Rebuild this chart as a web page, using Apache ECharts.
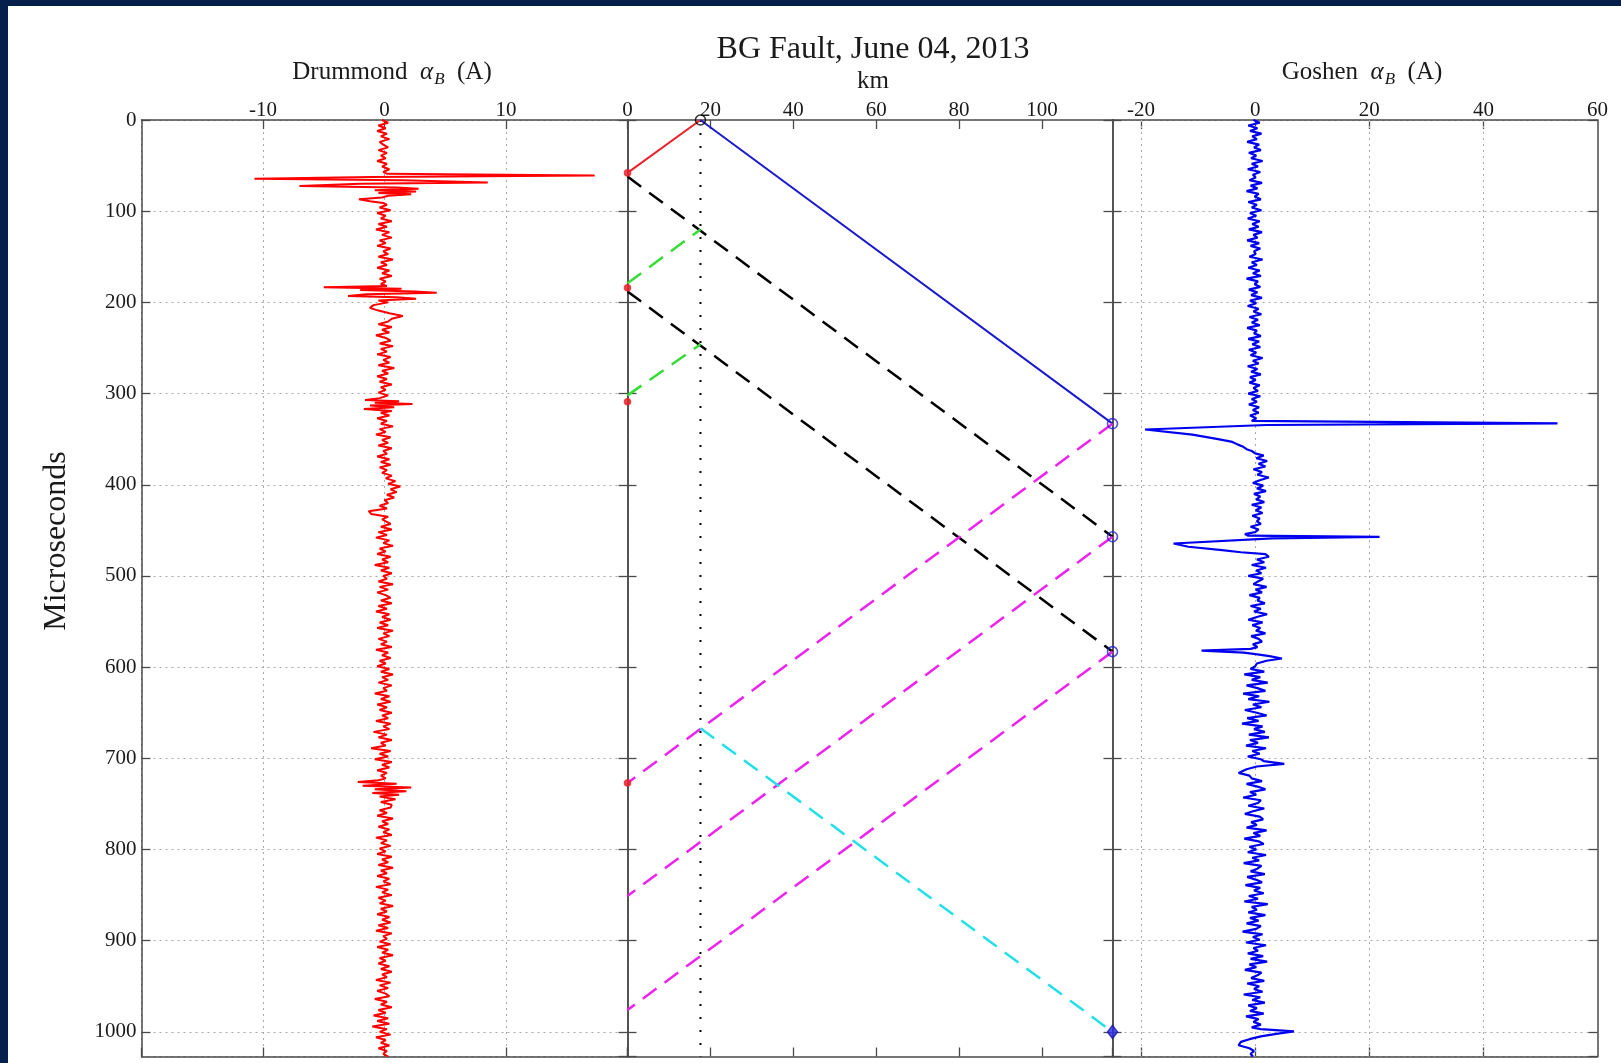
<!DOCTYPE html>
<html>
<head>
<meta charset="utf-8">
<script src="https://cdn.jsdelivr.net/npm/echarts@6/dist/echarts.min.js"></script>
<style>
html,body{margin:0;padding:0;background:#ffffff;}
#chart{width:1621px;height:1063px;}
</style>
</head>
<body>
<div id="chart"></div>
<script>
// ---------------- DATA ----------------
const titleText = 'BG Fault, June 04, 2013';
const yTicks = [0,100,200,300,400,500,600,700,800,900,1000];
const drumTicks = [-10, 0, 10];
const kmTicks = [0, 20, 40, 60, 80, 100];
const goshTicks = [-20, 0, 20, 40, 60];

// Drummond trace (A) : uniform noise chunks and bursts [t, A]
const drumNoise0 = [-0.2,0.3,-0.5,0.1,-0.6,0.2,-0.3,0.4,-0.4,-0.1,0.3,-0.5,0.2,-0.3,0.1,-0.6,0.2,-0.2,0.4,-0.1]; // t 0..57
const drumBurst1 = [[59,0.2],[61,17.3],[62.5,-1],[64.5,-10.7],[66,1.5],[68.5,8.5],[70,-2],[72.5,-7.0],[74,1],[75.5,2.8],[77,-0.8],[78.5,2.6],[80,-0.5],[81.5,2.2],[83,0.3],[85,-0.2],[87,-2.1],[89,-1.2],[91,-0.1]];
const drumNoise1 = [0.2,-0.4,0.5,-0.6,0.1,-0.3,0.6,-0.5,0.2,-0.7,0.4,-0.2,0.6,-0.4,0.1,-0.6,0.5,-0.1,0.3,-0.5,0.7,-0.3,0.2,-0.6,0.4,-0.2,0.6,-0.4,0.1,-0.3]; // t 93..180
const drumBurst2 = [[182,0.2],[183.5,-5.0],[185,1.4],[186.5,-2],[188,2.5],[189.5,4.3],[191,-1.5],[193,-3.0],[194.5,1.0],[196,2.6],[198,-0.5],[200,0.3],[203,-0.9],[206,-1.2],[209,-0.5],[212,0.4],[215,1.5],[218,0.6]];
const drumNoise2 = [0.3,-0.5,0.6,-0.2,0.4,-0.7,0.1,0.5,-0.4,0.7,-0.3,0.2,-0.6,0.5,-0.1,0.4,-0.5,0.8,-0.2,0.3,-0.6,0.2,-0.4,0.6,-0.3,0.1,-0.5,0.3]; // t 221..302
const drumBurst3 = [[305,-0.4],[307,-1.6],[308.5,1.2],[310,-0.8],[311.5,2.3],[313,-1.2],[315,0.8],[317,-1.7],[319,0.6],[321,-0.3]];
const drumNoise3 = [0.4,-0.6,0.2,-0.3,0.7,-0.4,0.1,-0.7,0.5,-0.2,0.3,-0.5,0.6,-0.1,0.2,-0.6,0.4,-0.3,0.5,-0.4,0.2,-0.2,
  0.6,0.1,0.9,0.3,1.3,0.5,1.0,0.2,0.8,0.0,
  0.3,-0.4,0.2,-1.3,-1.1,0.3,-0.2]; // t 324..440
const drumNoise4 = [0.5,-0.3,0.6,-0.5,0.2,-0.7,0.4,-0.1,0.7,-0.4,
  0.1,-0.6,0.5,-0.2,0.3,-0.8,0.4,-0.3,0.6,-0.1,
  0.2,-0.5,0.7,-0.4,0.3,-0.6,0.1,0.5,-0.3,0.6,
  -0.5,0.2,-0.7,0.4,-0.2,0.5,-0.4,0.3,-0.6,0.7,
  -0.1,0.4,-0.5,0.2,-0.3,0.6,-0.7,0.3,-0.2,0.5,
  -0.4,0.1,-0.6,0.4,-0.3,0.7,-0.2,0.3,-0.5,0.6,
  -0.1,0.2,-0.8,0.4,-0.3,0.5,-0.6,0.2,-0.4,0.6,
  -0.2,0.3,-0.7,0.5,-0.1,0.4,-0.9,0.2,-0.5,0.6,
  -0.3,0.1,-1.1,0.5,-0.4,0.3,-0.8,0.6,-0.2,0.4,
  -0.6,0.2,-0.3,0.1]; // t 443..722
const drumBurst4 = [[724,-0.5],[726,-2.2],[728,1.0],[730,-1.8],[732,2.2],[734,-0.8],[736,1.8],[738,-1.0],[740,1.2],[742,-0.4],[745,0.9],[748,-0.3],[751,0.6]];
const drumNoise5 = [0.5,-0.4,0.2,-0.6,0.7,-0.2,0.3,-0.5,0.4,-0.1,
  0.6,-0.7,0.2,-0.3,0.5,-0.4,0.1,-0.6,0.6,-0.2,
  0.3,-0.5,0.7,-0.3,0.2,-0.6,0.4,-0.1,0.5,-0.7,
  0.3,-0.2,0.6,-0.5,0.1,-0.4,0.7,-0.3,0.2,-0.6,
  0.4,-0.2,0.5,-0.5,0.3,-0.7,0.6,-0.1,0.2,-0.4,
  0.5,-0.6,0.3,-0.2,0.7,-0.4,0.1,-0.5,0.4,-0.3,
  0.6,-0.2,0.2,-0.7,0.5,-0.4,0.3,-0.6,0.1,0.4,
  -0.8,0.2,-0.3,0.6,-0.5,0.1,-0.9,0.3,-0.6,0.4,
  -1.0,0.2,-0.4,0.5,-0.7,0.1,-0.3,0.4,-0.5,0.2,
  -0.1,0.3]; // t 754..1027

// Goshen trace (A)
const goshNoise0 = [-0.3,0.8,-1.2,0.4,-0.9,1.1,-0.5,0.3,-1.4,0.7,
  -0.2,1.0,-1.1,0.2,-0.7,1.3,-0.6,0.5,-1.3,0.9,
  -0.4,0.1,-1.0,1.2,-0.8,0.4,-1.5,0.6,-0.1,1.0,
  -1.2,0.3,-0.6,1.1,-0.9,0.2,-1.3,0.8,-0.5,0.6,
  -1.1,1.2,-0.3,0.4,-1.4,0.7,-0.8,0.9,-0.2,0.1,
  -1.0,1.3,-0.6,0.3,-1.2,0.8,-0.4,1.0,-1.5,0.5,
  -0.1,0.9,-1.1,0.4,-0.7,1.2,-0.9,0.2,-1.3,0.6,
  -0.3,1.1,-1.0,0.5,-0.6,0.8,-1.4,0.3,-0.2,1.0,
  -1.2,0.7,-0.5,0.9,-1.1,0.2,-0.8,1.3,-0.4,0.6,
  -1.3,0.4,-0.7,1.0,-0.9,0.1,-1.0,0.8,-0.3,0.5,
  -1.2,0.9,-0.6,0.3,-1.1,0.7,-0.4,0.6,-0.9,0.2,
  -0.6]; // t 0..330
const goshBurst1 = [[331.5,-0.5],[332.8,53],[334.5,2],[339.4,-19.3],[345,-11],[350,-6.5],[353,-4.0],[356,-3.0],[358,-2.2],[361,-1.5],[363,-0.6],[365.6,0.0]];
const goshNoise1 = [1.5,0.2,2.1,0.6,1.8,-0.3,1.2,0.4,2.4,0.8,
  -0.4,1.4,0.3,1.9,-0.2,0.9,0.2,1.6,-0.6,1.1,
  0.1,1.3,-0.5,0.8,0.3,1.0,-0.8,0.6,0.0]; // t 368..452
const goshBurst2 = [[454,-1.8],[455.8,-1.2],[457.2,21.8],[458.8,3],[464.4,-14.3],[468,-11.7],[471.7,-5.8],[474,-2.5],[476,1.8]];
const goshNoise2 = [2.4,0.3,1.6,-0.6,1.9,0.2,1.1,-1.2,1.4,0.5,
  -0.3,2.0,0.1,1.2,-1.0,0.8,0.4,1.7,-0.8,1.0,
  -0.2,2.1,0.3,-1.2,1.3,-0.5,0.9,0.2,1.8,-0.7,
  0.6,1.2,-0.4,0.4]; // t 479..578
const goshBurst3 = [[580,-0.8],[582,-9.4],[584,-2.0],[586,0.4],[588,2.5],[590.5,4.7],[593,2.0],[596,0.3],[599,0.0]];
const goshNoise3 = [-0.8,1.6,-1.9,0.9,-0.6,2.2,-1.5,0.4,1.8,-2.1,
  0.7,-1.2,2.5,-0.4,1.1,-1.8,0.3,2.0,-1.4,0.6,
  -2.3,1.3,-0.2,1.7,-1.1,2.4,-0.9,0.5,-1.6,1.9,
  -0.5,0.8,-1.3,1.0]; // t 602..701
const goshBurst4 = [[703,1.5],[706,5.1],[709,0.3],[712,-1.5],[716,-2.9],[719,-1.0]];
const goshNoise4 = [-0.6,1.2,-1.5,0.4,1.8,-0.9,0.2,-2.1,1.0,0.5,
  -1.2,1.6,-0.4,-1.8,0.8,1.4,-0.7,0.3,-1.5,2.0,
  -0.3,0.9,-1.9,0.6,1.5,-1.0,0.2,-1.3,1.9,-0.5,
  0.7,-2.0,1.1,0.4,-0.8,1.7,-1.4,0.1,1.2,-1.7,
  0.9,-0.2,1.5,-1.1,0.5,-1.9,2.2,-0.6,0.3,-1.2,
  1.8,-0.9,0.6,-1.5,1.0,0.2,-2.2,1.3,-0.4,0.8,
  -1.6,1.9,-0.3,0.5,-1.3,1.4,-0.8,2.1,-1.0,0.2,
  -1.8,1.1,0.4,-0.7,1.6,-1.4,0.7,-0.2,1.3,-2.0,
  0.9,-0.5,1.7,-1.2,0.3,-0.9,1.5,-1.6,0.6,-0.3,
  1.0,-0.6]; // t 722..995
const goshBurst5 = [[997,1.0],[999.5,6.8],[1002,4.0],[1005,1.0],[1008,-1.0],[1011,-2.5],[1014.6,-2.9],[1018,-1.0],[1021,-0.2],[1024,-0.8],[1027,-0.4]];

// Lattice (km, microseconds)
const faultKm = 17.6;
const spanKm = 117;
const redSolid = [[0,58],[17.6,0]];
const blueSolid = [[17.6,0],[117,333]];
const blackDashed = [[[0,62],[117,457]], [[0,188],[117,583]]];
const greenDashed = [[[0,179],[17.6,120]], [[0,302],[17.6,246]]];
const magentaDashed = [[[117,333],[0,727]], [[117,457],[0,851]], [[117,583],[0,976]]];
const cyanDashed = [[[17.6,667],[117,1000]]];
const faultLine = [[17.6,0],[17.6,1027]];
const blackCircles = [[17.6,0]];
const blueCircles = [[117,333],[117,457],[117,583]];
const blueDiamonds = [[117,1000]];
const redDots = [[0,58],[0,184],[0,309],[0,727]];

// ---------------- BUILD ----------------
function chunk(t0, dt, vals){ return vals.map((v,i)=>[t0+i*dt, v]); }
function toXY(pairs){ return pairs.map(p=>[p[1], p[0]]); } // [t,A] -> [A,t]

const drumData = toXY([].concat(
  chunk(0,3,drumNoise0), drumBurst1, chunk(93,3,drumNoise1), drumBurst2,
  chunk(221,3,drumNoise2), drumBurst3, chunk(324,3,drumNoise3), chunk(443,3,drumNoise4),
  drumBurst4, chunk(754,3,drumNoise5)));
const goshData = toXY([].concat(
  chunk(0,3,goshNoise0), goshBurst1, chunk(368,3,goshNoise1), goshBurst2,
  chunk(479,3,goshNoise2), goshBurst3, chunk(602,3,goshNoise3), goshBurst4,
  chunk(722,3,goshNoise4), goshBurst5));

const SERIF = 'Liberation Serif';
const AX = '#4a4a4a';
const GRIDC = '#a9a9a9';
const TXT = '#1a1a1a';
const YMAX = 1027;

const G = [
  {left:141.5, top:120, width:486, height:936.5},
  {left:627.5, top:120, width:485, height:936.5},
  {left:1112.5, top:120, width:485, height:936.5}
];

const lab = {fontFamily:SERIF, fontSize:21, color:TXT, formatter:(v)=>String(v)};
const tickStyle = {color:AX, width:1.3};
const axLine = {show:true, onZero:false, lineStyle:{color:AX, width:1.5}};
const gridLine = {show:true, lineStyle:{color:GRIDC, width:1, type:[2,4]}};

function xPair(g, min, max, interval, labelOpts, split, customTicks){
  const top = {gridIndex:g, type:'value', position:'top', min, max, interval,
    axisLine:axLine,
    axisTick:{show:true, inside:true, length:9, lineStyle:tickStyle},
    axisLabel:Object.assign({show:true, margin:-1}, lab, labelOpts),
    splitLine: split ? gridLine : {show:false}};
  const bottom = {gridIndex:g, type:'value', position:'bottom', min, max, interval,
    axisLine:axLine,
    axisTick:{show:true, inside:true, length:9, lineStyle:tickStyle},
    axisLabel:{show:false}, splitLine:{show:false}};
  if (customTicks){ top.axisTick.customValues = customTicks; bottom.axisTick.customValues = customTicks; }
  return [top, bottom];
}
function yPair(g, showLabels, split){
  const left = {gridIndex:g, type:'value', position:'left', min:0, max:YMAX, interval:100, inverse:true,
    axisLine:axLine,
    axisTick:{show:true, inside:true, length:9, lineStyle:tickStyle},
    axisLabel:Object.assign({show:showLabels, margin:5, showMaxLabel:false}, lab),
    splitLine: split ? gridLine : {show:false}};
  const right = {gridIndex:g, type:'value', position:'right', min:0, max:YMAX, interval:100, inverse:true,
    axisLine:axLine,
    axisTick:{show:true, inside:true, length:9, lineStyle:tickStyle},
    axisLabel:{show:false}, splitLine:{show:false}};
  return [left, right];
}

const xAxes = [].concat(
  xPair(0, -20, 20, 10, {showMinLabel:false, showMaxLabel:false}, true),
  xPair(1, 0, spanKm, 20, {showMaxLabel:false}, false),
  xPair(2, -25, 60, 5, {customValues:goshTicks}, false, [-20,0,20,40])
);
const yAxes = [].concat(yPair(0, true, true), yPair(1, false, false), yPair(2, false, true));

const series = [];
// Drummond
series.push({type:'line', xAxisIndex:0, yAxisIndex:0, data:drumData, showSymbol:false, symbol:'none',
  lineStyle:{color:'#ff0000', width:2}, z:5});
// Goshen vertical grid lines
series.push({type:'line', xAxisIndex:4, yAxisIndex:4, data:[], symbol:'none', z:1,
  markLine:{silent:true, symbol:['none','none'], label:{show:false},
    lineStyle:{color:GRIDC, width:1, type:[2,4]},
    data:[-20,0,20,40].map(v=>({xAxis:v}))}});
// Goshen
series.push({type:'line', xAxisIndex:4, yAxisIndex:4, data:goshData, showSymbol:false, symbol:'none',
  lineStyle:{color:'#0000ee', width:2.2}, z:5});

// Lattice
function seg(data, color, type, width, z){
  series.push({type:'line', xAxisIndex:2, yAxisIndex:2, data, showSymbol:false, symbol:'none', clip:false,
    lineStyle:{color, width, type}, z:z||3});
}
seg(faultLine, '#000000', [2,11], 2, 2);
seg(redSolid, '#e8222a', 'solid', 2);
seg(blueSolid, '#1a1acc', 'solid', 2);
blackDashed.forEach(d=>seg(d, '#000000', [17,10], 2.5));
greenDashed.forEach(d=>seg(d, '#33dd33', [17,10], 2.5));
magentaDashed.forEach(d=>seg(d, '#ee22ee', [17,10], 2.5));
cyanDashed.forEach(d=>seg(d, '#22e0e8', [17,10], 2.5));

function marks(data, symbol, size, color, fill, z){
  series.push({type:'scatter', xAxisIndex:2, yAxisIndex:2, data, symbol, symbolSize:size, clip:false,
    itemStyle:{color:fill, borderColor:color, borderWidth:1.6}, z:z||6});
}
marks(redDots, 'circle', 6, '#e8222a', '#e8222a', 4);
marks(blackCircles, 'circle', 10, '#000000', 'rgba(0,0,0,0)');
marks(blueCircles, 'circle', 10, '#2020dd', 'rgba(0,0,0,0)');
marks(blueDiamonds, 'diamond', [10,13], '#1a1aaa', '#2a2aee');

const navy = '#05204a';
const sub = {fontFamily:SERIF, fontSize:17, fontStyle:'italic', fill:TXT, padding:[15,0,0,1]};
const nrm = {fontFamily:SERIF, fontSize:25, fill:TXT};
const alp = {fontFamily:SERIF, fontSize:25, fontStyle:'italic', fill:TXT};

const option = {
  animation:false,
  backgroundColor:'#ffffff',
  grid:G,
  xAxis:xAxes,
  yAxis:yAxes,
  series,
  graphic:[
    {type:'rect', shape:{x:0,y:0,width:1621,height:6}, style:{fill:navy}, z:100},
    {type:'rect', shape:{x:0,y:0,width:8,height:1063}, style:{fill:navy}, z:100},
    {type:'text', x:873, y:50, style:{text:titleText, fontFamily:SERIF, fontSize:32, fill:TXT, textAlign:'center', textVerticalAlign:'middle'}},
    {type:'text', x:873, y:81, style:{text:'km', fontFamily:SERIF, fontSize:25, fill:TXT, textAlign:'center', textVerticalAlign:'middle'}},
    {type:'text', x:392, y:72, style:{text:'{n|Drummond  }{a|α}{b|B}{n|  (A)}', rich:{n:nrm, a:alp, b:sub}, textAlign:'center', textVerticalAlign:'middle'}},
    {type:'text', x:1362, y:72, style:{text:'{n|Goshen  }{a|α}{b|B}{n|  (A)}', rich:{n:nrm, a:alp, b:sub}, textAlign:'center', textVerticalAlign:'middle'}},
    {type:'text', x:57, y:541, rotation:Math.PI/2, style:{text:'Microseconds', fontFamily:SERIF, fontSize:32, fill:TXT, textAlign:'center', textVerticalAlign:'middle'}}
  ]
};

const chart = echarts.init(document.getElementById('chart'), null, {renderer:'canvas'});
chart.setOption(option);
</script>
</body>
</html>
